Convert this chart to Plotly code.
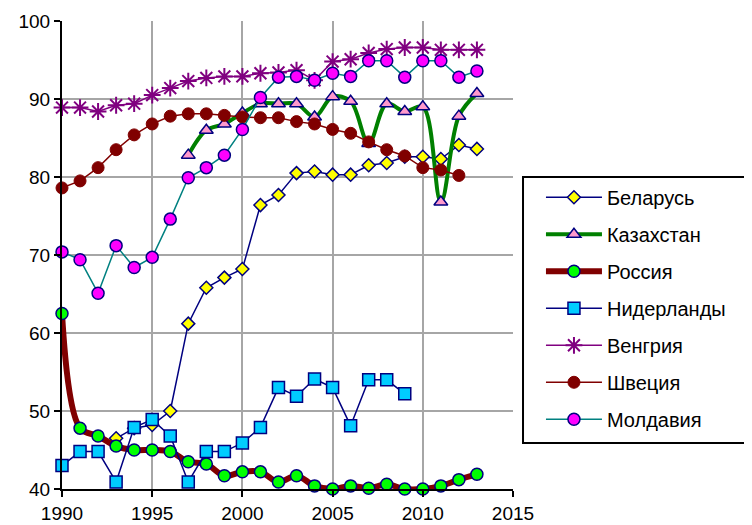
import plotly.graph_objects as go

years = list(range(1990, 2014))

belarus = [None, None, None, 46.5, 47.8, 48.2, 50.0, 61.2, 65.8, 67.1, 68.2, 76.4, 77.7,
           80.5, 80.7, 80.3, 80.3, 81.5, 81.8, 82.6, 82.6, 82.3, 84.1, 83.6]
kazakhstan = [None, None, None, None, None, None, None, 82.8, 86.0, 86.8, 88.2, 89.4, 89.4,
              89.4, 87.7, 90.3, 89.7, 84.3, 89.4, 88.4, 89.0, 76.8, 87.8, 90.7]
russia = [62.5, 47.8, 46.8, 45.5, 45.0, 45.0, 44.8, 43.5, 43.2, 41.7, 42.2, 42.2, 40.9,
          41.7, 40.4, 40.0, 40.4, 40.1, 40.6, 40.0, 40.0, 40.4, 41.2, 41.9]
netherlands = [43.0, 44.8, 44.8, 40.9, 47.9, 48.9, 46.8, 40.9, 44.8, 44.8, 45.9, 47.9, 53.0,
               51.9, 54.1, 53.0, 48.1, 54.0, 54.0, 52.2, None, None, None, None]
hungary = [88.9, 88.9, 88.4, 89.2, 89.4, 90.5, 91.4, 92.3, 92.7, 92.9, 92.9, 93.3, 93.4,
           93.7, 92.4, 94.8, 95.1, 95.9, 96.4, 96.6, 96.6, 96.3, 96.3, 96.3]
sweden = [78.6, 79.5, 81.2, 83.5, 85.4, 86.8, 87.8, 88.1, 88.1, 87.9, 87.7, 87.6, 87.6,
          87.1, 86.8, 86.1, 85.6, 84.5, 83.5, 82.7, 81.2, 80.9, 80.2, None]
moldova = [70.4, 69.4, 65.1, 71.2, 68.4, 69.7, 74.6, 79.9, 81.2, 82.8, 86.1, 90.2, 92.8,
           92.9, 92.4, 93.3, 92.9, 94.9, 94.9, 92.8, 94.9, 94.9, 92.8, 93.6]

x_ticks = [1990, 1995, 2000, 2005, 2010, 2015]
y_ticks = [40, 50, 60, 70, 80, 90, 100]

NAVY = "#000080"
series = [
    dict(name="Беларусь", y=belarus, lc=NAVY, lw=1.5, shape="linear",
         sym="diamond", ms=10, fill="#FFFF00", mlc=NAVY, mlw=1.5),
    dict(name="Казахстан", y=kazakhstan, lc="#008000", lw=4, shape="spline",
         sym="triangle-up", ms=12, fill="#FF99CC", mlc=NAVY, mlw=1.5),
    dict(name="Россия", y=russia, lc="#800000", lw=6, shape="spline",
         sym="circle", ms=12, fill="#00FF00", mlc=NAVY, mlw=1.5),
    dict(name="Нидерланды", y=netherlands, lc=NAVY, lw=1.5, shape="linear",
         sym="square", ms=12, fill="#00CCFF", mlc=NAVY, mlw=1.5),
    dict(name="Венгрия", y=hungary, lc="#800080", lw=1.5, shape="linear",
         sym="asterisk-open", ms=14, fill="#800080", mlc="#800080", mlw=2),
    dict(name="Швеция", y=sweden, lc="#800000", lw=1.5, shape="linear",
         sym="circle", ms=12, fill="#800000", mlc="#800000", mlw=1),
    dict(name="Молдавия", y=moldova, lc="#008080", lw=1.5, shape="linear",
         sym="circle", ms=12, fill="#FF00FF", mlc=NAVY, mlw=1.5),
]

fig = go.Figure()
for i, s in enumerate(series):
    fig.add_trace(go.Scatter(
        x=years, y=s["y"], name=s["name"], mode="lines+markers",
        line=dict(color=s["lc"], width=s["lw"], shape=s["shape"]),
        marker=dict(symbol=s["sym"], size=s["ms"], color=s["fill"],
                    line=dict(color=s["mlc"], width=s["mlw"])),
        legendgroup=f"g{i}", cliponaxis=False, connectgaps=False,
    ))

FONT = "Liberation Sans, Arial, sans-serif"
# legend frame (extends past the right edge, as in the reference)
fig.add_shape(type="rect", xref="paper", yref="paper",
              x0=1.0222, x1=1.6, y0=0.0983, y1=0.6667,
              line=dict(color="black", width=2), fillcolor="white", layer="above")

# the page body has an 8px margin, so the figure is sized to fit inside it
fig.update_layout(
    width=744, height=517,
    margin=dict(l=54, r=239, t=13, b=36, autoexpand=False),
    paper_bgcolor="white", plot_bgcolor="white",
    font=dict(family=FONT, size=19, color="black"),
    showlegend=True,
    legend=dict(x=1.062, y=0.665, xanchor="left", yanchor="top",
                bgcolor="rgba(0,0,0,0)", borderwidth=0,
                font=dict(family=FONT, size=20, color="black"),
                traceorder="grouped", tracegroupgap=8, itemwidth=56),
    xaxis=dict(range=[1990, 2015], tickvals=x_ticks, showgrid=True,
               gridcolor="#A6A6A6", gridwidth=2, showline=True, linecolor="black",
               linewidth=2, ticks="outside", ticklen=6, tickcolor="black",
               tickwidth=2, zeroline=False, tickfont=dict(size=19), automargin=False),
    yaxis=dict(range=[40, 100], tickvals=y_ticks, showgrid=True,
               gridcolor="#A6A6A6", gridwidth=2, showline=True, linecolor="black",
               linewidth=2, ticks="outside", ticklen=6, tickcolor="black",
               tickwidth=2, zeroline=False, tickfont=dict(size=19), automargin=False),
)

fig.write_html("out.html")
